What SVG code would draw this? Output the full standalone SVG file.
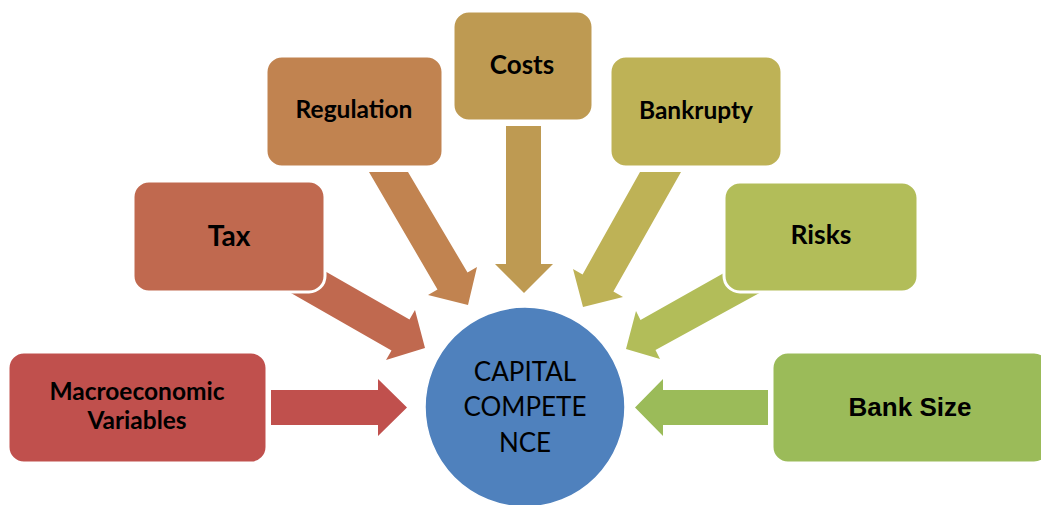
<svg xmlns="http://www.w3.org/2000/svg" width="1041" height="505" viewBox="0 0 1041 505">
  <style>
    .box { stroke: #ffffff; stroke-width: 3; }
    .lbl { font-family: Lato, "Open Sans", sans-serif; font-weight: bold; fill: #000000; text-anchor: middle; }
    .lbl-arial { font-family: "Liberation Sans", Arial, sans-serif; font-weight: bold; fill: #000000; text-anchor: middle; }
    .hub { font-family: Lato, "Open Sans", sans-serif; font-size: 26px; fill: #000000; text-anchor: middle; }
  </style>
  <rect width="1041" height="505" fill="#ffffff"/>

  <!-- block arrows pointing at the hub -->
  <g id="connectors">
    <polygon fill="#C0504D" points="271,390 378,390 378,379 407,407.5 378,436 378,425 271,425"/>
    <polygon fill="#C0694F" points="296.7,254.9 409.5,319.5 415,310 425,348 386,360 391.5,350.5 278.7,285.9"/>
    <polygon fill="#C18350" points="369,172 408,172 467.5,272.5 477,267 468,305 428,295 437.5,289.5"/>
    <polygon fill="#BE9A52" points="506,126 541,126 541,264 553,264 524,293 495,264 506,264"/>
    <polygon fill="#BEB256" points="640,172 681,172 613.4,291.6 623,297 583,307 573,269 582.6,274.4"/>
    <polygon fill="#B2BD59" points="753.6,256.3 640.5,320 636,311 626,349 660,359 655.5,350 770.8,286.8"/>
    <polygon fill="#9BBB59" points="768,390 663,390 663,379 635,407.5 663,436 663,425 768,425"/>
  </g>

  <g id="node-macro">
    <rect class="box" x="8" y="352" width="259" height="111" rx="16" fill="#C0504D"/>
    <text class="lbl" x="137" y="400" font-size="24.5">Macroeconomic</text>
    <text class="lbl" x="137" y="429" font-size="24.5">Variables</text>
  </g>
  <g id="node-tax">
    <rect class="box" x="133" y="181" width="192" height="111" rx="16" fill="#C0694F"/>
    <text class="lbl" x="229" y="246" font-size="28">Tax</text>
  </g>
  <g id="node-regulation">
    <rect class="box" x="266" y="56" width="177" height="111" rx="16" fill="#C18350"/>
    <text class="lbl" x="354" y="118" font-size="24.5">Regulation</text>
  </g>
  <g id="node-costs">
    <rect class="box" x="453" y="11" width="140" height="110" rx="16" fill="#BE9A52"/>
    <text class="lbl" x="522" y="74" font-size="26">Costs</text>
  </g>
  <g id="node-bankrupty">
    <rect class="box" x="610" y="56" width="172" height="111" rx="16" fill="#BEB256"/>
    <text class="lbl" x="696" y="119" font-size="24.5">Bankrupty</text>
  </g>
  <g id="node-risks">
    <rect class="box" x="724" y="182" width="194" height="110" rx="16" fill="#B2BD59"/>
    <text class="lbl" x="821" y="244" font-size="26.5">Risks</text>
  </g>
  <g id="node-banksize">
    <rect class="box" x="772" y="352" width="278" height="111" rx="16" fill="#9BBB59"/>
    <text class="lbl-arial" x="910" y="416" font-size="26">Bank Size</text>
  </g>

  <g id="node-capital">
    <circle cx="525" cy="407" r="100" fill="#4F81BD" stroke="#ffffff" stroke-width="1.5"/>
    <text class="hub" x="525" y="381">CAPITAL</text>
    <text class="hub" x="525" y="416">COMPETE</text>
    <text class="hub" x="525" y="452">NCE</text>
  </g>
</svg>
